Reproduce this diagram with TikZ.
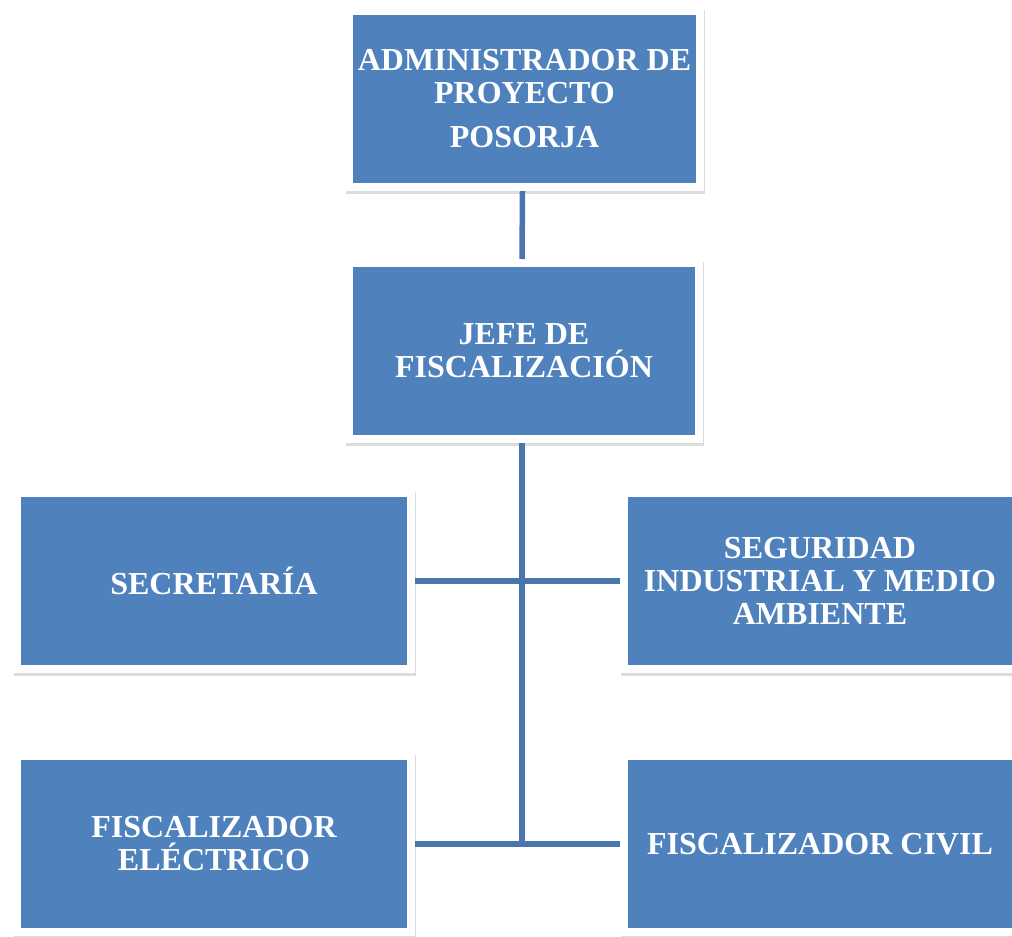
\documentclass[tikz,border=0pt]{standalone}
\usepackage{fontspec}
\setmainfont{Liberation Serif}
\definecolor{boxblue}{HTML}{4F81BD}
\definecolor{lineblue}{HTML}{4A76AE}
\definecolor{shadowgray}{HTML}{DCDCDC}
\begin{document}
\begin{tikzpicture}[x=1pt,y=-1pt,
  orgbox/.style={rectangle, fill=boxblue, draw=white, line width=8pt,
    preaction={draw=shadowgray, line width=8pt, transform canvas={xshift=1pt,yshift=-2.5pt}},
    text=white, font=\fontsize{32}{33}\selectfont\bfseries, align=center,
    inner sep=0pt, minimum height=176pt},
  link/.style={draw=lineblue, line width=5.5pt}]
\useasboundingbox (0,0) rectangle (1012,937);
\node[orgbox, minimum width=351pt] (adm) at (524.5,99) {ADMINISTRADOR DE\\PROYECTO\\[11pt]POSORJA};
\node[orgbox, minimum width=350pt] (jefe) at (524,351) {JEFE DE\\FISCALIZACIÓN};
\node[orgbox, minimum width=394pt] (sec) at (214,581) {SECRETARÍA};
\node[orgbox, minimum width=392pt] (seg) at (820,581) {SEGURIDAD\\INDUSTRIAL Y MEDIO\\AMBIENTE};
\node[orgbox, minimum width=394pt] (fe) at (214,844) {FISCALIZADOR\\ELÉCTRICO};
\node[orgbox, minimum width=392pt] (fc) at (820,844) {FISCALIZADOR CIVIL};
\coordinate (admb) at ([xshift=-2pt]adm.south);
\coordinate (jeft) at ([xshift=-2pt]jefe.north);
\coordinate (jefb) at ([xshift=-2pt]jefe.south);
\coordinate (bot) at (jefb |- fe.east);
\path[link] (admb) -- (jeft);
\path[link] (jefb) -- (bot);
\path[link] (sec.east) -- (seg.west);
\path[link] (fe.east) -- (fc.west);
\end{tikzpicture}
\end{document}
